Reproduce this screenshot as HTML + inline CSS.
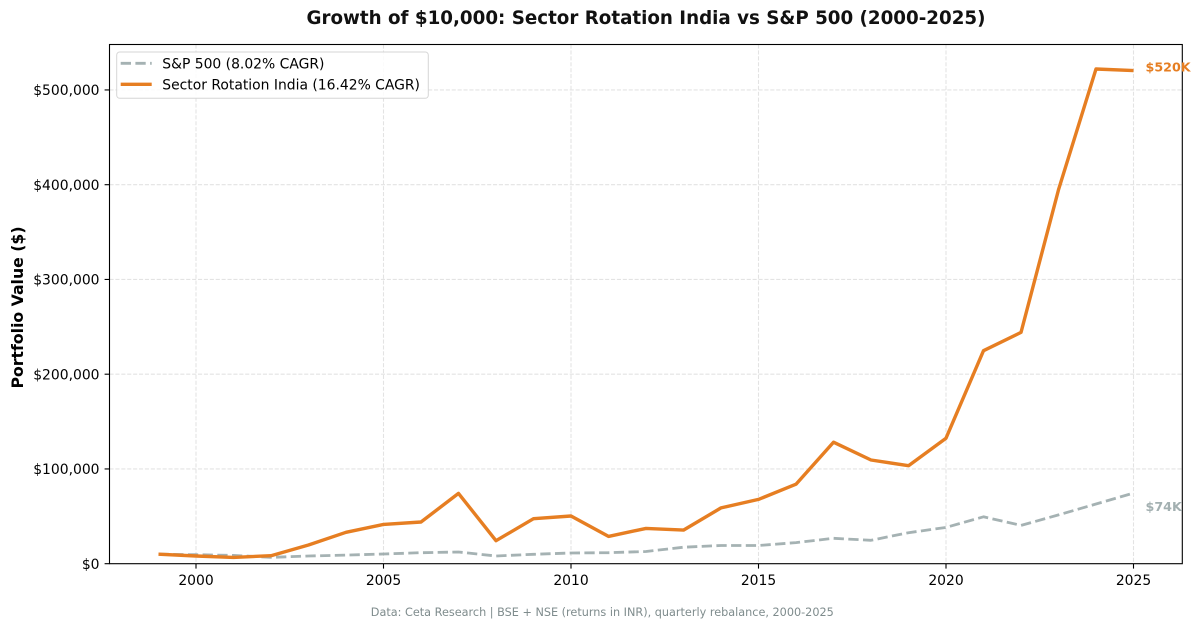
<!DOCTYPE html>
<html>
<head>
<meta charset="utf-8">
<style>
  html, body { margin: 0; padding: 0; background: #ffffff; }
  svg { display: block; }
  text { font-family: "DejaVu Sans", "Liberation Sans", sans-serif; }
</style>
</head>
<body>
<svg width="1200" height="628" viewBox="0 0 1200 628" xmlns="http://www.w3.org/2000/svg">
  <rect x="0" y="0" width="1200" height="628" fill="#ffffff"/>

  <!-- Title -->
  <text x="646" y="24" text-anchor="middle" font-size="18.3" font-weight="bold" fill="#111111" textLength="679" lengthAdjust="spacingAndGlyphs">Growth of $10,000: Sector Rotation India vs S&amp;P 500 (2000-2025)</text>

  <!-- Grid lines -->
  <g stroke="#e3e3e3" stroke-width="1.1" stroke-dasharray="4.1,1.8" fill="none">
    <line x1="196" y1="44.5" x2="196" y2="563.7"/>
    <line x1="383.5" y1="44.5" x2="383.5" y2="563.7"/>
    <line x1="571" y1="44.5" x2="571" y2="563.7"/>
    <line x1="758.5" y1="44.5" x2="758.5" y2="563.7"/>
    <line x1="946" y1="44.5" x2="946" y2="563.7"/>
    <line x1="1133.5" y1="44.5" x2="1133.5" y2="563.7"/>
    <line x1="109.5" y1="468.95" x2="1182.3" y2="468.95"/>
    <line x1="109.5" y1="374.2" x2="1182.3" y2="374.2"/>
    <line x1="109.5" y1="279.45" x2="1182.3" y2="279.45"/>
    <line x1="109.5" y1="184.7" x2="1182.3" y2="184.7"/>
    <line x1="109.5" y1="89.95" x2="1182.3" y2="89.95"/>
  </g>

  <!-- S&P 500 series -->
  <polyline fill="none" stroke="#95a5a6" stroke-opacity="0.85" stroke-width="2.8" stroke-dasharray="10.3,4.4" stroke-linejoin="round"
    points="158.5,554.2 196,554.7 233.5,555.4 271,557.35 308.5,556.0 346,555.1 383.5,554.0 421,552.7 458.5,552.0 496,556.0 533.5,554.3 571,553.0 608.5,552.7 646,551.5 683.5,547.2 721,545.5 758.5,545.5 796,542.6 833.5,538.3 871,540.3 908.5,532.7 946,527.4 983.5,516.8 1021,525.4 1058.5,514.9 1096,504.0 1133.5,493.1"/>

  <!-- Sector Rotation India series -->
  <polyline fill="none" stroke="#e67e22" stroke-width="3.4" stroke-linejoin="round" stroke-linecap="butt"
    points="158.5,554.2 196,556.0 233.5,557.4 271,555.7 308.5,545.0 346,532.3 383.5,524.4 421,522.0 458.5,493.4 496,540.7 533.5,518.7 571,516.0 608.5,536.4 646,528.4 683.5,530.1 721,507.9 758.5,499.4 796,484.2 833.5,442.2 871,460.0 908.5,465.7 946,438.2 983.5,350.7 1021,332.4 1058.5,189.8 1096,69.0 1133.5,70.6"/>

  <!-- Axes frame -->
  <rect x="109.5" y="44.5" width="1072.8" height="519.2" fill="none" stroke="#000000" stroke-width="1.1"/>

  <!-- X ticks -->
  <g stroke="#000000" stroke-width="1.1">
    <line x1="196" y1="563.7" x2="196" y2="568.6"/>
    <line x1="383.5" y1="563.7" x2="383.5" y2="568.6"/>
    <line x1="571" y1="563.7" x2="571" y2="568.6"/>
    <line x1="758.5" y1="563.7" x2="758.5" y2="568.6"/>
    <line x1="946" y1="563.7" x2="946" y2="568.6"/>
    <line x1="1133.5" y1="563.7" x2="1133.5" y2="568.6"/>
  </g>
  <g font-size="13.9" fill="#000000" text-anchor="middle">
    <text x="196" y="585">2000</text>
    <text x="383.5" y="585">2005</text>
    <text x="571" y="585">2010</text>
    <text x="758.5" y="585">2015</text>
    <text x="946" y="585">2020</text>
    <text x="1133.5" y="585">2025</text>
  </g>

  <!-- Y ticks -->
  <g stroke="#000000" stroke-width="1.1">
    <line x1="104.6" y1="563.7" x2="109.5" y2="563.7"/>
    <line x1="104.6" y1="468.95" x2="109.5" y2="468.95"/>
    <line x1="104.6" y1="374.2" x2="109.5" y2="374.2"/>
    <line x1="104.6" y1="279.45" x2="109.5" y2="279.45"/>
    <line x1="104.6" y1="184.7" x2="109.5" y2="184.7"/>
    <line x1="104.6" y1="89.95" x2="109.5" y2="89.95"/>
  </g>
  <g font-size="13.9" fill="#000000" text-anchor="end">
    <text x="99.5" y="568.8">$0</text>
    <text x="99.5" y="474.05">$100,000</text>
    <text x="99.5" y="379.3">$200,000</text>
    <text x="99.5" y="284.55">$300,000</text>
    <text x="99.5" y="189.8">$400,000</text>
    <text x="99.5" y="95.05">$500,000</text>
  </g>

  <!-- Y axis label -->
  <text transform="translate(23,307.5) rotate(-90)" text-anchor="middle" font-size="15.7" font-weight="bold" fill="#000000" textLength="162" lengthAdjust="spacingAndGlyphs">Portfolio Value ($)</text>

  <!-- End annotations -->
  <text x="1145.5" y="71.3" font-size="12.7" font-weight="bold" fill="#e67e22">$520K</text>
  <text x="1145.5" y="510.8" font-size="12.7" font-weight="bold" fill="#a3b0b1">$74K</text>

  <!-- Legend -->
  <rect x="116.7" y="52" width="311.6" height="46.3" rx="3" ry="3" fill="#ffffff" fill-opacity="0.85" stroke="#d6d6d6" stroke-width="1"/>
  <line x1="120.7" y1="63.3" x2="151.7" y2="63.3" stroke="#95a5a6" stroke-opacity="0.85" stroke-width="2.8" stroke-dasharray="10.3,4.4"/>
  <line x1="120.7" y1="84.3" x2="151.7" y2="84.3" stroke="#e67e22" stroke-width="3.4"/>
  <text x="162.3" y="68.4" font-size="13.9" fill="#000000">S&amp;P 500 (8.02% CAGR)</text>
  <text x="162.3" y="89.4" font-size="13.9" fill="#000000">Sector Rotation India (16.42% CAGR)</text>

  <!-- Footer -->
  <text x="602.3" y="616" text-anchor="middle" font-size="11.4" fill="#7f8c8d" textLength="463" lengthAdjust="spacingAndGlyphs">Data: Ceta Research | BSE + NSE (returns in INR), quarterly rebalance, 2000-2025</text>
</svg>
</body>
</html>
